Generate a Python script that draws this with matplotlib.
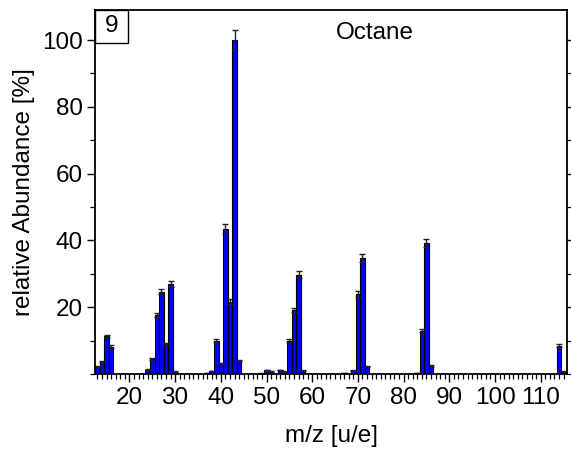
import matplotlib
matplotlib.use("Agg")
import matplotlib.pyplot as plt
from matplotlib.patches import Rectangle
from matplotlib.ticker import MultipleLocator

plt.rcParams['font.family'] = ['Liberation Sans', 'DejaVu Sans']

mz = [13, 14, 15, 16, 24, 25, 26, 27, 28, 29, 30, 37, 38, 39, 40, 41, 42, 43, 44,
      49, 50, 51, 53, 54, 55, 56, 57, 58, 67, 69, 70, 71, 72, 83, 84, 85, 86, 114, 115]
abundance = [2.2, 3.7, 11.3, 8.2, 1.3, 4.5, 17.8, 24.7, 9.0, 27.0, 0.7, 0.3, 0.9, 10.0, 3.2,
             43.5, 21.7, 100.0, 4.0, 0.2, 1.2, 0.8, 1.2, 0.7, 10.0, 19.2, 29.7, 1.0,
             0.3, 1.0, 24.0, 34.6, 2.2, 0.3, 13.0, 39.3, 2.4, 8.5, 0.7]
errors = [0.2, 0.3, 0.5, 0.4, 0.1, 0.3, 0.6, 0.8, 0.4, 0.8, 0.1, 0.05, 0.1, 0.4, 0.2,
          1.5, 0.8, 3.0, 0.2, 0.05, 0.1, 0.1, 0.1, 0.1, 0.4, 0.7, 1.0, 0.1,
          0.05, 0.1, 0.8, 1.2, 0.2, 0.05, 0.5, 1.2, 0.2, 0.4, 0.1]

xticks = [20, 30, 40, 50, 60, 70, 80, 90, 100, 110]
yticks = [20, 40, 60, 80, 100]

FS = 17.5

fig = plt.figure(figsize=(5.71, 4.57), dpi=100)
ax = fig.add_axes([0.167, 0.1816, 0.826, 0.7965])

ax.bar(mz, abundance, width=1.0, color='#0000ff', edgecolor='black', linewidth=0.8,
       yerr=errors, capsize=2.5,
       error_kw=dict(ecolor='#222222', elinewidth=1.0, capthick=1.0))

ax.set_xlim(12.55, 115.75)
ax.set_ylim(0, 109)
ax.set_xticks(xticks)
ax.set_yticks(yticks)
ax.xaxis.set_minor_locator(MultipleLocator(1))
ax.yaxis.set_minor_locator(MultipleLocator(10))

ax.tick_params(axis='both', which='major', direction='out', length=6, width=1.0,
               labelsize=FS, color='black', pad=3)
ax.tick_params(axis='both', which='minor', direction='out', length=3.5, width=0.9)
ax.tick_params(axis='y', which='both', right=True, labelright=False)
ax.tick_params(axis='x', which='both', top=False)

for sp in ax.spines.values():
    sp.set_linewidth(1.3)

ax.set_xlabel('m/z [u/e]', fontsize=FS, labelpad=12)
ax.set_ylabel('relative Abundance [%]', fontsize=FS, labelpad=5)

ax.text(0.593, 0.937, 'Octane', transform=ax.transAxes, fontsize=FS,
        ha='center', va='center')
ax.add_patch(Rectangle((0, 0.909), 0.069, 0.091, transform=ax.transAxes,
                       facecolor='white', edgecolor='black', linewidth=1.0,
                       clip_on=False, zorder=5))
ax.text(0.0345, 0.955, '9', transform=ax.transAxes, fontsize=FS,
        ha='center', va='center', zorder=6)

fig.savefig('out.png', dpi=100)
